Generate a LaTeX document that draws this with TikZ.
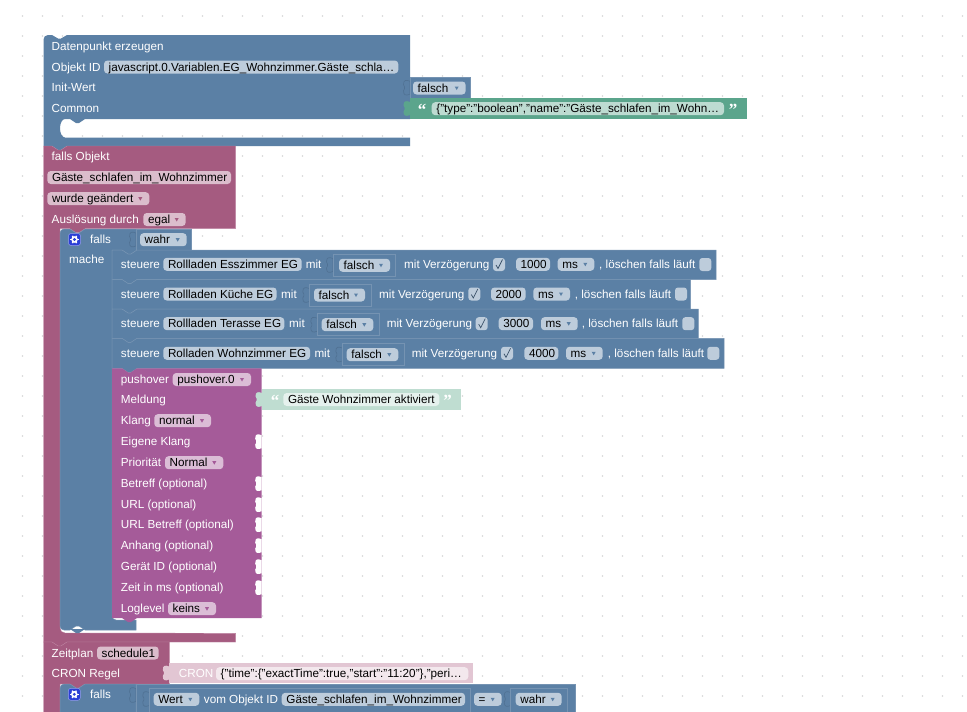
\documentclass[tikz,border=0pt]{standalone}
\usepackage{fontspec}
\setmainfont{Liberation Sans}
\newfontfamily\quotefont{Liberation Serif}

\definecolor{griddot}{HTML}{D6D6D6}
\definecolor{datablue}{HTML}{5B80A5}
\definecolor{dataline}{HTML}{7593B2}
\definecolor{datadark}{HTML}{507193}
\definecolor{eventred}{HTML}{A55B80}
\definecolor{eventline}{HTML}{BC7F9E}
\definecolor{pushpurple}{HTML}{A55B99}
\definecolor{stringgreen}{HTML}{5BA58C}
\definecolor{stringpale}{HTML}{BFDDD1}
\definecolor{cronpale}{HTML}{E2C6D3}
\definecolor{iconblue}{HTML}{2B3FD6}

% statement block: style, left, right, top, bottom
\newcommand{\stmtblock}[5]{
    \draw [#1] (#2,-#4) -- (#2+10,-#4) -- ++(6,-4) -- ++(3,0) -- ++(6,4) -- (#3,-#4) -- (#3,-#5)
        -- (#2+25,-#5) -- ++(-6,-4) -- ++(-3,0) -- ++(-6,4) -- (#2,-#5) -- cycle;
}
% puzzle socket at a right edge: style, x, y
\newcommand{\socket}[3]{
    \draw [#1] (#2,-#3+6.5) .. controls (#2-4,-#3+8) and (#2-6.5,-#3+8) .. (#2-6.5,-#3+3)
        -- (#2-5.5,-#3+1) -- (#2-5.5,-#3-1) -- (#2-6.5,-#3-3)
        .. controls (#2-6.5,-#3-8) and (#2-4,-#3-8) .. (#2,-#3-6.5) -- cycle;
}
% value block: left, right, top, bottom, socket y
\newcommand{\valblock}[5]{
    \socket{sockdark}{#1}{#5}
    \draw [valbox] (#1,-#3) rectangle (#2,-#4);
}
% text field: name, block colour, left, right, y, text
\newcommand{\textfield}[6]{
    \draw [fill=#2!40!white, draw=none, rounded corners=3.5] (#3,-#5+6.5) rectangle (#4,-#5-6.5);
    \draw (#3+4.5,-#5) node (#1) [fieldtext] {#6};
}
\newcommand{\dropfield}[6]{
    \textfield{#1}{#2}{#3}{#4}{#5}{#6}
    \fill [#2] (#4-11,-#5+1.5) -- (#4-7,-#5+1.5) -- (#4-9,-#5-2) -- cycle;
}
\newcommand{\optbox}[2]{
    \draw [fill=datablue!40!white, draw=none, rounded corners=3] (#1,-#2+6.5) rectangle (#1+12,-#2-6.5);
}
\newcommand{\tickbox}[2]{
    \optbox{#1}{#2}
    \draw [datadark!70!black, line width=0.7] (#1+3,-#2-0.5) -- (#1+5,-#2-4) -- (#1+9.5,-#2+5);
}
\newcommand{\gearicon}[2]{
    \draw [fill=iconblue, draw=iconblue!50!white, line width=0.5, rounded corners=2.5] (#1-6,-#2+6) rectangle (#1+6,-#2-6);
    \foreach \a in {0,60,...,300}
        \draw [white, line width=1.4] (#1,-#2) -- ++(\a:4.2);
    \fill [white] (#1,-#2) circle (3.3);
    \fill [iconblue] (#1,-#2) circle (1.6);
}

\begin{document}
\begin{tikzpicture}[x=1pt,y=1pt]
    \tikzstyle{every node}+=[inner sep=0pt, font=\fontsize{11.7}{14}\selectfont, text height=9pt, text depth=1pt]
    \tikzstyle{lab}=[anchor=west, text=white]
    \tikzstyle{fieldtext}=[anchor=west, text=black]
    \tikzstyle{quotemark}=[anchor=base, text=white, font=\quotefont\bfseries\fontsize{17}{17}\selectfont, text height=, text depth=]
    \tikzstyle{datablock}=[fill=datablue, draw=dataline, line width=0.5]
    \tikzstyle{eventblock}=[fill=eventred, draw=eventline, line width=0.4]
    \tikzstyle{pushblock}=[fill=pushpurple, draw=none]
    \tikzstyle{valbox}=[fill=datablue, draw=dataline, line width=0.6]
    \tikzstyle{sockdark}=[fill=datablue, draw=datadark, line width=0.6]
    \tikzstyle{sockwhite}=[fill=white, draw=none]

    \clip (0,0) rectangle (967,-712);
    \fill [white] (0,0) rectangle (967,-712);
    \foreach \x in {22.5,42.5,...,962.5}
        \foreach \y in {16,36,...,696}
            \fill [griddot] (\x,-\y) circle (0.85);

    % Datenpunkt erzeugen
    \fill [datablue] (43.5,-39.5) arc (180:90:4.5) -- (52,-35) -- ++(6,-3.5) -- ++(3,0) -- ++(6,3.5) -- (410,-35) -- (410,-119)
        -- (85,-119) -- ++(-6,-4) -- ++(-3,0) -- ++(-6,4) -- (65,-119) arc (90:270:5 and 9.25)
        -- (410,-137.5) -- (410,-146) -- (67,-146) -- ++(-6,-4) -- ++(-3,0) -- ++(-6,4) -- (43.5,-146) -- cycle;
    \draw (51.5,-46.7) node (dpTitle) [lab] {Datenpunkt erzeugen};
    \draw (51.5,-67.7) node (dpId) [lab] {Objekt ID};
    \textfield{dpIdField}{datablue}{104}{398.3}{67}{javascript.0.Variablen.EG\_Wohnzimmer.Gäste\_schla…}
    \draw (51.5,-87.7) node (dpInit) [lab] {Init-Wert};
    \draw (51.5,-108.7) node (dpCommon) [lab] {Common};

    \valblock{410}{470.7}{77.5}{98}{87.7}
    \dropfield{dpFalsch}{datablue}{413}{465.7}{88}{falsch}

    \socket{fill=stringgreen, draw=none}{410}{108.5}
    \fill [stringgreen] (410,-98.3) rectangle (746.7,-118.7);
    \draw (422,-115) node (dpOpen) [quotemark] {“};
    \textfield{dpString}{stringgreen}{431.7}{724}{108.7}{\{"type":"boolean","name":"Gäste\_schlafen\_im\_Wohn…}
    \draw (733,-115) node (dpClose) [quotemark] {”};

    % falls Objekt
    \draw [eventblock] (43.5,-146) -- (52,-146) -- ++(6,-4) -- ++(3,0) -- ++(6,4) -- (235.7,-146) -- (235.7,-228.7)
        -- (85,-228.7) -- ++(-6,-4) -- ++(-3,0) -- ++(-6,4) -- (60,-228.7) -- (60,-628) arc (180:270:5) -- (235.7,-633.3)
        -- (235.7,-642) -- (67,-642) -- ++(-6,-4) -- ++(-3,0) -- ++(-6,4) -- (43.5,-642) -- cycle;
    \draw (51.5,-156.7) node (evTitle) [lab] {falls Objekt};
    \textfield{evName}{eventred}{47.3}{231}{177.5}{Gäste\_schlafen\_im\_Wohnzimmer}
    \dropfield{evChange}{eventred}{47.3}{149.3}{198.7}{wurde geändert}
    \draw (51.5,-219.7) node (evCause) [lab] {Auslösung durch};
    \dropfield{evEgal}{eventred}{143.3}{185.7}{219.5}{egal}

    % falls / mache
    \draw [datablock] (60,-233) arc (180:90:4) -- (70,-229) -- ++(6,-4) -- ++(3,0) -- ++(6,4) -- (191.5,-229) -- (191.5,-250)
        -- (137,-250) -- ++(-6,-4) -- ++(-3,0) -- ++(-6,4) -- (112,-250) -- (112,-616) arc (180:270:4) -- (136,-620) -- (136,-630)
        -- (85,-630) -- ++(-6,4) -- ++(-3,0) -- ++(-6,-4) -- (64,-630) arc (270:180:4) -- cycle;
    \fill [datablue] (85,-629) -- ++(-6,-4) -- ++(-3,0) -- ++(-6,4) -- cycle;
    \gearicon{74.5}{239.5}
    \draw (90,-239.7) node (ifFalls) [lab] {falls};
    \draw (69,-259.7) node (ifMache) [lab] {mache};
    \valblock{136}{191.5}{229}{250}{239.5}
    \dropfield{ifWahr}{datablue}{140}{186.7}{239.7}{wahr}

    % steuere
    \stmtblock{datablock}{112}{716}{250}{279.5}
    \draw (120.7,-264.3) node (rowAsteuere) [lab] {steuere};
    \textfield{rowAname}{datablue}{163.3}{301.7}{264.3}{Rollladen Esszimmer EG}
    \draw (305.7,-264.3) node (rowAmit) [lab] {mit};
    \valblock{333}{395.7}{254}{276.7}{265}
    \dropfield{rowAfalsch}{datablue}{339}{390}{265.3}{falsch}
    \draw (404,-264.3) node (rowAdelay) [lab] {mit Verzögerung};
    \tickbox{493}{264.5}
    \textfield{rowAtime}{datablue}{516}{550}{264.3}{1000}
    \dropfield{rowAunit}{datablue}{557.7}{594.3}{264.3}{ms}
    \draw (599,-264.3) node (rowAclear) [lab] {, löschen falls läuft};
    \optbox{699.3}{264.5}

    \stmtblock{datablock}{112}{690.7}{279.5}{309}
    \draw (120.7,-294) node (rowBsteuere) [lab] {steuere};
    \textfield{rowBname}{datablue}{163.3}{276.7}{294}{Rollladen Küche EG}
    \draw (281,-294) node (rowBmit) [lab] {mit};
    \valblock{309.3}{371}{284.3}{306}{295}
    \dropfield{rowBfalsch}{datablue}{314}{365}{295}{falsch}
    \draw (379,-294) node (rowBdelay) [lab] {mit Verzögerung};
    \tickbox{468.3}{294}
    \textfield{rowBtime}{datablue}{491}{525.7}{294}{2000}
    \dropfield{rowBunit}{datablue}{533.3}{570}{294}{ms}
    \draw (574.7,-294) node (rowBclear) [lab] {, löschen falls läuft};
    \optbox{675}{294}

    \stmtblock{datablock}{112}{698.3}{309}{338.3}
    \draw (120.7,-323.7) node (rowCsteuere) [lab] {steuere};
    \textfield{rowCname}{datablue}{163.3}{284.3}{323.7}{Rollladen Terasse EG}
    \draw (289,-323.7) node (rowCmit) [lab] {mit};
    \valblock{317.3}{379}{313.7}{335}{324.7}
    \dropfield{rowCfalsch}{datablue}{321.7}{373.3}{324.7}{falsch}
    \draw (386.7,-323.7) node (rowCdelay) [lab] {mit Verzögerung};
    \tickbox{475.7}{323.7}
    \textfield{rowCtime}{datablue}{498.7}{533}{323.7}{3000}
    \dropfield{rowCunit}{datablue}{541}{577.7}{323.7}{ms}
    \draw (581.7,-323.7) node (rowCclear) [lab] {, löschen falls läuft};
    \optbox{682.3}{323.7}

    \stmtblock{datablock}{112}{724}{338.3}{368.3}
    \draw (120.7,-353.3) node (rowDsteuere) [lab] {steuere};
    \textfield{rowDname}{datablue}{163.3}{310}{353.3}{Rolladen Wohnzimmer EG}
    \draw (314.3,-353.3) node (rowDmit) [lab] {mit};
    \valblock{342.3}{404}{343}{365}{354.5}
    \dropfield{rowDfalsch}{datablue}{346.7}{398.3}{354.7}{falsch}
    \draw (411.7,-353.3) node (rowDdelay) [lab] {mit Verzögerung};
    \tickbox{501}{353.3}
    \textfield{rowDtime}{datablue}{524.3}{558.3}{353.3}{4000}
    \dropfield{rowDunit}{datablue}{566}{602.7}{353.3}{ms}
    \draw (607.7,-353.3) node (rowDclear) [lab] {, löschen falls läuft};
    \optbox{707.3}{353.3}

    % pushover
    \stmtblock{pushblock}{112}{261.7}{368.3}{618}
    \draw (120.7,-379.7) node (poTitle) [lab] {pushover};
    \dropfield{poInst}{pushpurple}{172.7}{251}{379.5}{pushover.0}
    \draw (120.7,-399.7) node (poMsg) [lab] {Meldung};
    \draw (120.7,-420.7) node (poSound) [lab] {Klang};
    \dropfield{poSoundField}{pushpurple}{154.3}{211}{420.7}{normal}
    \draw (120.7,-441.7) node (poOwn) [lab] {Eigene Klang};
    \draw (120.7,-462.7) node (poPrio) [lab] {Priorität};
    \dropfield{poPrioField}{pushpurple}{165}{223.3}{462.7}{Normal}
    \draw (120.7,-483.7) node (poSubject) [lab] {Betreff (optional)};
    \draw (120.7,-504.7) node (poUrl) [lab] {URL (optional)};
    \draw (120.7,-524.7) node (poUrlSub) [lab] {URL Betreff (optional)};
    \draw (120.7,-545.7) node (poFile) [lab] {Anhang (optional)};
    \draw (120.7,-566.7) node (poDevice) [lab] {Gerät ID (optional)};
    \draw (120.7,-587.7) node (poTime) [lab] {Zeit in ms (optional)};
    \draw (120.7,-608.7) node (poLog) [lab] {Loglevel};
    \dropfield{poLogField}{pushpurple}{168}{216}{608.7}{keins}
    \socket{sockwhite}{261.7}{441.7}
    \socket{sockwhite}{261.7}{483.7}
    \socket{sockwhite}{261.7}{504.7}
    \socket{sockwhite}{261.7}{524.7}
    \socket{sockwhite}{261.7}{545.7}
    \socket{sockwhite}{261.7}{566.7}
    \socket{sockwhite}{261.7}{587.7}

    \socket{fill=stringpale, draw=none}{262}{399.5}
    \fill [stringpale] (261.7,-389) rectangle (461,-410);
    \draw (275,-406) node (poOpen) [quotemark] {“};
    \textfield{poString}{stringpale}{283.3}{439.3}{399.5}{Gäste Wohnzimmer aktiviert}
    \draw (447.7,-406) node (poClose) [quotemark] {”};

    % Zeitplan
    \draw [eventblock] (43.5,-642) -- (52,-642) -- ++(6,-4) -- ++(3,0) -- ++(6,4) -- (169.3,-642) -- (169.3,-684)
        -- (85,-684) -- ++(-6,-4) -- ++(-3,0) -- ++(-6,4) -- (60,-684) -- (60,-730) -- (43.5,-730) -- cycle;
    \draw (51.5,-653) node (cronTitle) [lab] {Zeitplan};
    \textfield{cronName}{eventred}{97}{158.7}{653}{schedule1}
    \draw (51.5,-673.7) node (cronRule) [lab] {CRON Regel};

    \socket{fill=cronpale, draw=none}{169.3}{673}
    \fill [cronpale] (169.3,-662.7) rectangle (472.7,-683.3);
    \draw (178.7,-673.7) node (cronWord) [lab] {CRON};
    \textfield{cronValue}{cronpale}{216}{468.3}{673.7}{\{"time":\{"exactTime":true,"start":"11:20"\},"peri…}

    % falls, Wert vom Objekt
    \draw [datablock] (60,-688) arc (180:90:4) -- (70,-684) -- ++(6,-4) -- ++(3,0) -- ++(6,4) -- (136,-684) -- (136,-730) -- (60,-730) -- cycle;
    \gearicon{74.3}{694.3}
    \draw (90,-694) node (ifTwoFalls) [lab] {falls};
    \socket{sockdark}{136}{695}
    \draw [valbox] (136,-684) rectangle (575.7,-730);
    \valblock{149.3}{470}{688}{730}{699}
    \dropfield{ifTwoWert}{datablue}{153.7}{199.3}{699.3}{Wert}
    \draw (203.7,-699.3) node (ifTwoFrom) [lab] {vom Objekt ID};
    \textfield{ifTwoName}{datablue}{281.7}{465}{699.3}{Gäste\_schlafen\_im\_Wohnzimmer}
    \dropfield{ifTwoEq}{datablue}{474}{501.7}{699.3}{=}
    \valblock{510.7}{567.7}{688}{730}{699}
    \dropfield{ifTwoWahr}{datablue}{515.7}{561.7}{699.3}{wahr}
\end{tikzpicture}
\end{document}
